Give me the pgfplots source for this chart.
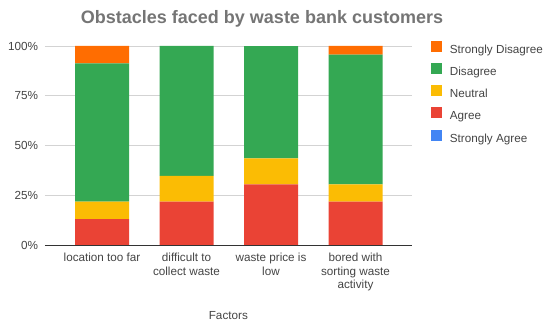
\documentclass[border=0pt]{standalone}
\usepackage{fontspec}
\setmainfont{Liberation Sans}
\usepackage{pgfplots}
\pgfplotsset{compat=1.18}
\definecolor{cSA}{HTML}{4285F4}
\definecolor{cA}{HTML}{EA4335}
\definecolor{cN}{HTML}{FBBC04}
\definecolor{cD}{HTML}{34A853}
\definecolor{cSD}{HTML}{FF6D01}
\definecolor{tick}{HTML}{444444}
\definecolor{ttl}{HTML}{757575}
\definecolor{gridc}{HTML}{D3D3D3}
\definecolor{basec}{HTML}{333333}
\begin{document}
\begin{tikzpicture}
\path[use as bounding box] (0,0) rectangle (550bp,326bp);
\node[anchor=base, font=\fontsize{18bp}{21bp}\selectfont\bfseries, text=ttl, inner sep=0pt] at (262bp,302.7bp) {Obstacles faced by waste bank customers};
\begin{axis}[
  at={(45bp,81bp)}, anchor=south west,
  scale only axis, width=366.7bp, height=199bp,
  ybar stacked, bar width=54bp,
  xmin=-0.675, xmax=3.665, ymin=0, ymax=100,
  xtick={0,1,2,3},
  xticklabels={location too far, difficult to\\collect waste, waste price is\\low, bored with\\sorting waste\\activity},
  ytick={0,25,50,75,100},
  yticklabels={0\%,25\%,50\%,75\%,100\%},
  major tick length=0pt,
  axis lines*=left,
  x axis line style={draw=basec, line width=0.8bp},
  y axis line style={draw=none},
  ymajorgrids, grid style={draw=gridc, line width=0.8bp},
  xticklabel style={anchor=north, inner sep=0pt, yshift=-8.0bp, align=center, text=tick, font=\fontsize{11.7bp}{13.4bp}\selectfont},
  yticklabel style={anchor=east, inner sep=0pt, xshift=-6.7bp, text=tick, font=\fontsize{11.7bp}{13.5bp}\selectfont},
  xlabel={Factors},
  xlabel style={at={(axis description cs:0.5,-0.373)}, anchor=base, inner sep=0pt, text=tick, font=\fontsize{11.7bp}{13.5bp}\selectfont},
  reverse legend,
  legend cell align=left,
  legend image code/.code={\fill[#1] (0bp,-1.6bp) rectangle (11bp,9.4bp);},
  legend style={at={(axis description cs:1.0518,1.0286)}, anchor=north west, draw=none, fill=none, inner sep=0pt,
    row sep=6.6bp, font=\fontsize{11.7bp}{13.5bp}\selectfont, text=tick,
    nodes={inner sep=0pt, text height=9.5bp, text depth=3bp},
    /tikz/every odd column/.append style={column sep=8bp}},
]
\addplot[fill=cSA, draw=none] coordinates {(0,0) (1,0) (2,0) (3,0)};
\addplot[fill=cA, draw=none] coordinates {(0,13.04) (1,21.74) (2,30.43) (3,21.74)};
\addplot[fill=cN, draw=none] coordinates {(0,8.70) (1,13.04) (2,13.04) (3,8.70)};
\addplot[fill=cD, draw=none] coordinates {(0,69.57) (1,65.22) (2,56.52) (3,65.22)};
\addplot[fill=cSD, draw=none] coordinates {(0,8.70) (1,0) (2,0) (3,4.35)};
\legend{Strongly Agree, Agree, Neutral, Disagree, Strongly Disagree}
\end{axis}
\end{tikzpicture}
\end{document}
